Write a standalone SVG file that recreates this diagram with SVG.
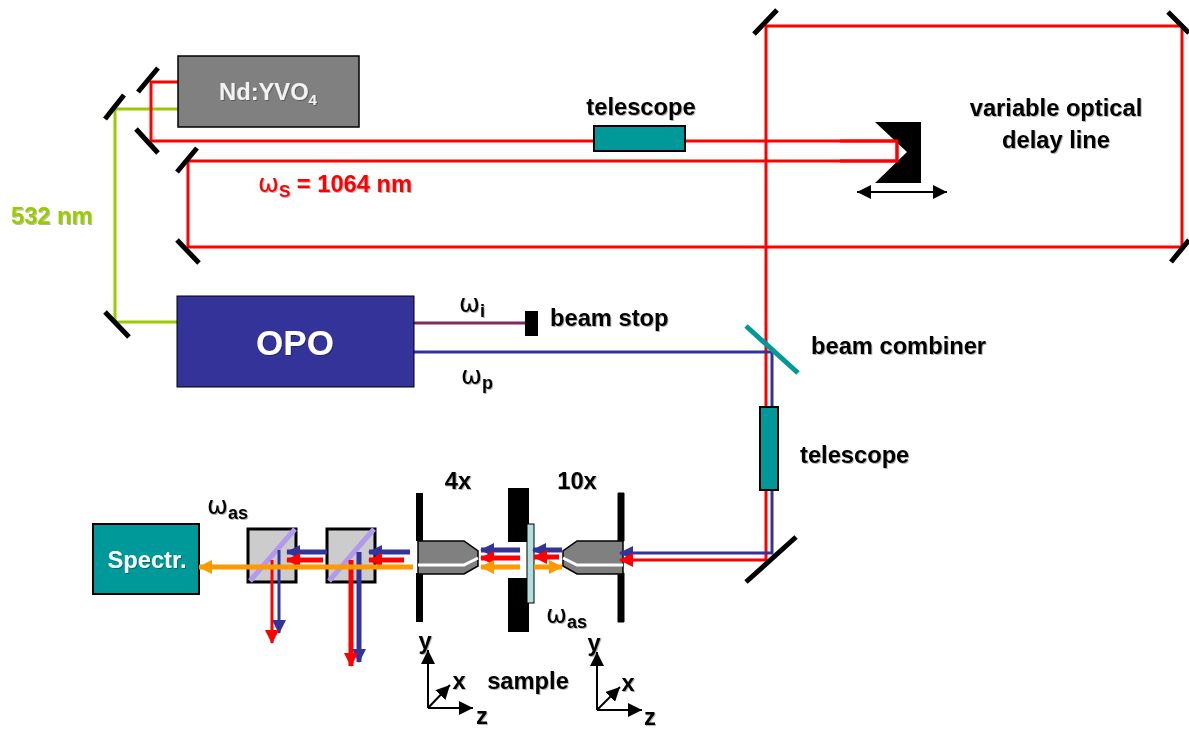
<svg xmlns="http://www.w3.org/2000/svg" width="1189" height="729" viewBox="0 0 1189 729">
<style>
text{font-family:"Liberation Sans",Arial,sans-serif;font-weight:700;font-size:23.7px;fill:#000;filter:url(#sh)}
.w{font-family:"DejaVu Sans",sans-serif;font-weight:400;font-size:25px}
.s{font-size:18px}
.c{text-anchor:middle}
.m{stroke:#000;stroke-width:5;fill:none}
.r{stroke:#f00;stroke-width:3;fill:none}
.b{stroke:#333399;stroke-width:3;fill:none}
.g{stroke:#99cc00;stroke-width:3;fill:none}
.teal{fill:#009999;stroke:#000;stroke-width:2}
.cube{fill:#cccccc;stroke:#000;stroke-width:3}
.body{fill:#808080;stroke:#000;stroke-width:1.5}
.ax{stroke:#000;stroke-width:2;fill:none;marker-end:url(#ak)}
</style>
<defs>
<filter id="sh" x="-10%" y="-10%" width="120%" height="130%"><feDropShadow dx="1" dy="1" stdDeviation="0.5" flood-color="#000" flood-opacity="0.3"/></filter>
<marker id="ak" markerUnits="userSpaceOnUse" markerWidth="14" markerHeight="14" refX="14" refY="7" orient="auto-start-reverse"><path d="M0 0L14 7L0 14Z" fill="#000"/></marker>
<marker id="ab" markerUnits="userSpaceOnUse" markerWidth="14" markerHeight="14" refX="13" refY="7" orient="auto"><path d="M0 0L14 7L0 14Z" fill="#333399"/></marker>
<marker id="ar" markerUnits="userSpaceOnUse" markerWidth="14" markerHeight="14" refX="13" refY="7" orient="auto"><path d="M0 0L14 7L0 14Z" fill="#f00"/></marker>
<marker id="ao" markerUnits="userSpaceOnUse" markerWidth="14" markerHeight="14" refX="13" refY="7" orient="auto"><path d="M0 0L14 7L0 14Z" fill="#ff9900"/></marker>
</defs>

<g id="connectors">
<path class="g" d="M178 109H115V322H177"/>
<path class="r" d="M178 82H151V141H897V161H188V247H1182V26H766V560H632"/>
<path d="M414 323H525" fill="none" stroke="#7f2a66" stroke-width="3"/>
<path class="b" d="M414 352H772V553H632"/>
</g>

<g id="mirrors">
<path class="m" d="M138 92L158 68M105 119L124 95M136 129L158 153M177 172L197 148M177 240L199 263M754 34L777 10M1168 12L1189 33M1171 262L1189 240M105 312L129 337M746 582L796 537"/>
<path d="M746 326L798 373" stroke="#009999" stroke-width="5" fill="none"/>
</g>

<g id="laser"><rect x="178" y="56" width="181" height="71" fill="#808080" stroke="#000" stroke-width="1.500"/><text x="268" y="100" class="c" style="fill:#f2f2f2">Nd:YVO<tspan class="s" font-size="14" dy="5" style="font-size:15px">4</tspan></text></g>
<g id="telescope-top"><rect class="teal" x="594" y="126" width="91" height="25"/><text x="641" y="115" class="c">telescope</text></g>
<g id="delay-mirror"><path d="M875 122H921V183H875L907 152Z" fill="#000"/><path class="r" d="M840 141H897V161H840"/><path d="M857 192H947" stroke="#000" stroke-width="2" fill="none" marker-start="url(#ak)" marker-end="url(#ak)"/></g>
<g id="delay-label"><text x="1056" y="116" class="c">variable optical</text><text x="1056" y="148" class="c">delay line</text></g>
<g id="signal-label"><text x="258" y="192" style="fill:#f00"><tspan class="w">ω</tspan><tspan class="s" dy="5" style="font-size:17px">S</tspan><tspan dy="-5"> = 1064 nm</tspan></text></g>
<g id="green-label"><text x="11" y="224" style="fill:#99cc00">532 nm</text></g>
<g id="opo"><rect x="177" y="296" width="237" height="91" fill="#333399" stroke="#000" stroke-width="1"/><text x="295" y="355" class="c" style="fill:#fff;font-size:35px">OPO</text></g>
<g id="idler-label"><text x="459" y="312"><tspan class="w">ω</tspan><tspan class="s" dy="5">i</tspan></text></g>
<g id="pump-label"><text x="461" y="384"><tspan class="w">ω</tspan><tspan class="s" dy="5">p</tspan></text></g>
<g id="beam-stop"><rect x="525" y="311" width="13" height="25" fill="#000"/><text x="550" y="326">beam stop</text></g>
<g id="combiner-label"><text x="811" y="354">beam combiner</text></g>
<g id="telescope-bottom"><rect class="teal" x="760" y="407" width="18" height="83"/><text x="800" y="463">telescope</text></g>

<g id="objective-10x">
<path d="M618 493H624V541H618ZM618 573H624V622H618Z" fill="#000" stroke="#000" stroke-width="1"/>
<path class="body" d="M577 541H623V574H577L563 566V551Z"/>
<path d="M623 565H577L563 558" stroke="#fff" stroke-width="3" fill="none"/>
<path d="M632 553H620" stroke="#333399" stroke-width="3" marker-end="url(#ab)"/>
<path d="M632 560H620" stroke="#f00" stroke-width="3" marker-end="url(#ar)"/>
<text x="577" y="489" class="c">10x</text>
</g>
<g id="objective-4x">
<path d="M416 493H423V541H416ZM416 573H423V622H416Z" fill="#000"/>
<path class="body" d="M418 541H464L478 551V566L464 574H418Z"/>
<path d="M418 565H464L478 558" stroke="#fff" stroke-width="3" fill="none"/>
<text x="458" y="489" class="c">4x</text>
</g>
<g id="sample">
<path d="M508 488H529V632H508V578H527V542H508Z" fill="#000"/>
<rect x="527" y="524" width="7" height="79" fill="#b2dfe0" stroke="#000" stroke-width="1"/>
<path d="M520 550H481" stroke="#333399" stroke-width="5" marker-end="url(#ab)"/>
<path d="M520 558H481" stroke="#f00" stroke-width="5" marker-end="url(#ar)"/>
<path d="M520 567H481" stroke="#ff9900" stroke-width="5" marker-end="url(#ao)"/>
<path d="M562 550H533" stroke="#333399" stroke-width="5" marker-end="url(#ab)"/>
<path d="M559 557H534" stroke="#f00" stroke-width="5" marker-end="url(#ar)"/>
<path d="M534 567H562" stroke="#ff9900" stroke-width="5" marker-end="url(#ao)"/>
<text x="528" y="689" class="c">sample</text>
<text x="546" y="623"><tspan class="w">ω</tspan><tspan class="s" dy="5">as</tspan></text>
</g>
<g id="cube-2"><rect class="cube" x="327" y="529" width="48" height="53"/><path d="M329 581L374 529" stroke="#b399ee" stroke-width="5" fill="none"/></g>
<g id="cube-1"><rect class="cube" x="248" y="529" width="48" height="53"/><path d="M250 581L295 529" stroke="#b399ee" stroke-width="5" fill="none"/></g>
<g id="spectrometer"><rect class="teal" x="93" y="524" width="106" height="70"/><text x="147" y="568" class="c" style="fill:#fff">Spectr.</text></g>
<g id="beams">
<path d="M410 552H369" stroke="#333399" stroke-width="5" marker-end="url(#ab)"/>
<path d="M404 560H369" stroke="#f00" stroke-width="5" marker-end="url(#ar)"/>
<path d="M327 552H287" stroke="#333399" stroke-width="5" marker-end="url(#ab)"/>
<path d="M323 560H287" stroke="#f00" stroke-width="5" marker-end="url(#ar)"/>
<path d="M359 552V662" stroke="#333399" stroke-width="5" marker-end="url(#ab)"/>
<path d="M351 560V666" stroke="#f00" stroke-width="5" marker-end="url(#ar)"/>
<path d="M279 550V633" stroke="#333399" stroke-width="3" marker-end="url(#ab)"/>
<path d="M272 560V643" stroke="#f00" stroke-width="3" marker-end="url(#ar)"/>
<path d="M413 567H199" stroke="#ff9900" stroke-width="5" marker-end="url(#ao)"/>
</g>
<g id="omega-as"><text x="207" y="514"><tspan class="w">ω</tspan><tspan class="s" dy="5">as</tspan></text></g>
<g id="axes-left"><path class="ax" d="M428 708V650"/><path class="ax" d="M428 708H473"/><path class="ax" d="M428 708L450 685"/><text x="425" y="649" class="c">y</text><text x="459" y="689" class="c">x</text><text x="482" y="724" class="c">z</text></g>
<g id="axes-right"><path class="ax" d="M597 710V652"/><path class="ax" d="M597 710H642"/><path class="ax" d="M597 710L620 687"/><text x="594" y="651" class="c">y</text><text x="628" y="691" class="c">x</text><text x="650" y="725" class="c">z</text></g>
</svg>
